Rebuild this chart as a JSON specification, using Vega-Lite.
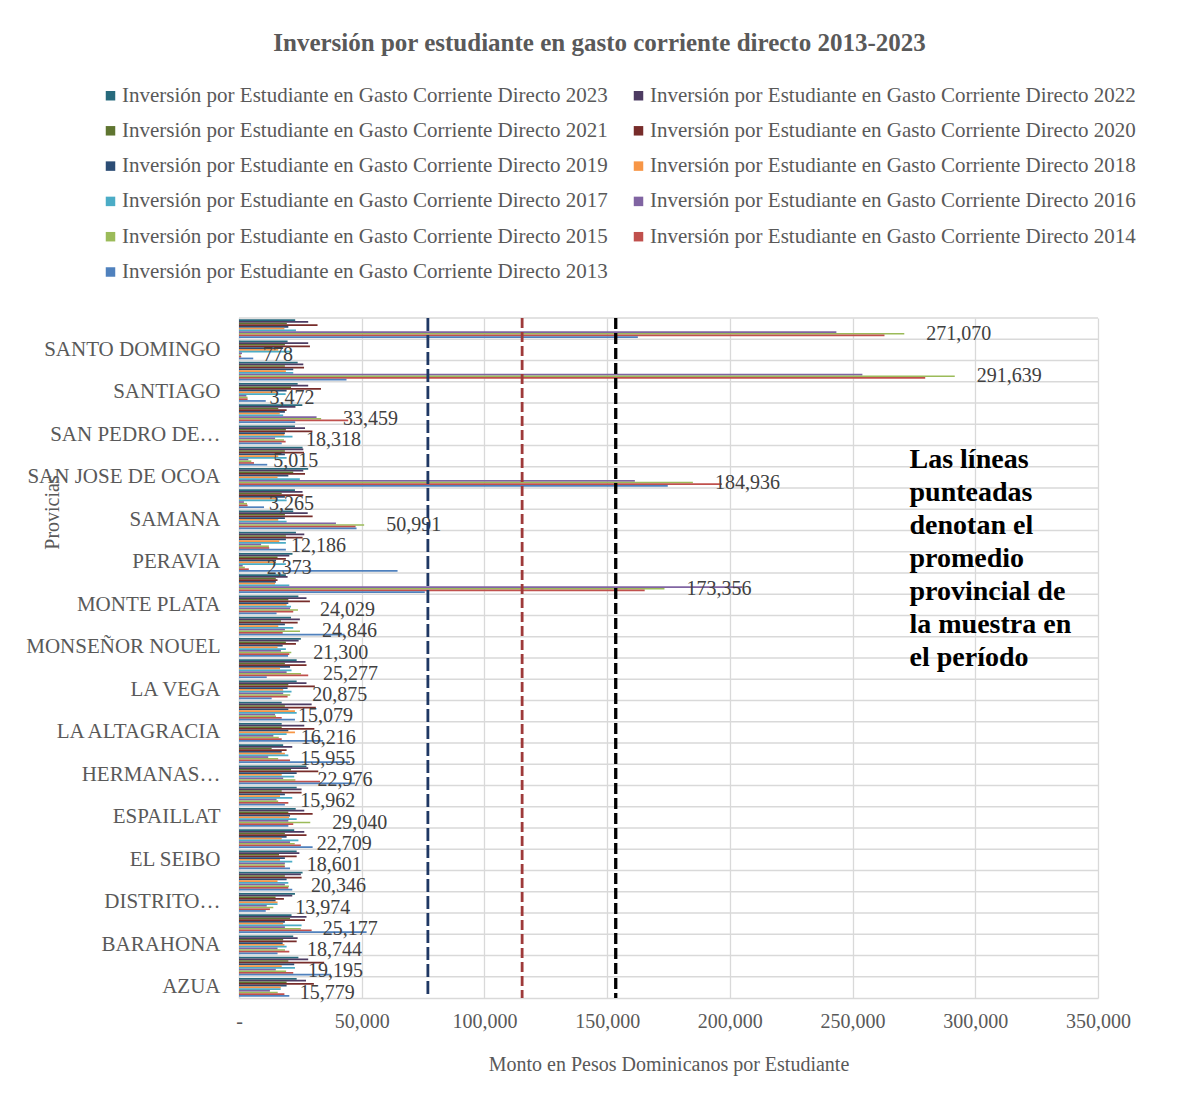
{
  "$schema": "https://vega.github.io/schema/vega-lite/v6.json",
  "autosize": "none",
  "padding": {"left": 239, "top": 318, "right": 79, "bottom": 97},
  "width": 859,
  "height": 680,
  "background": "white",
  "config": {"font": "Liberation Serif", "view": {"stroke": null}, "legend": {"labelFont": "Liberation Serif"}, "text": {"font": "Liberation Serif"}},
  "title": {
    "text": "Inversión por estudiante en gasto corriente directo 2013-2023",
    "fontSize": 25, "fontWeight": "bold", "color": "#595959", "font": "Liberation Serif",
    "anchor": "middle", "frame": "group", "dx": -69, "offset": 29
  },
  "data": {"values": [
    {"p":"VALVERDE","2023":22900,"2022":28200,"2021":19500,"2020":32000,"2019":20100,"2018":18500,"2017":23200,"2016":243400,"2015":271070,"2014":263000,"2013":162500},
    {"p":"SANTO DOMINGO","2023":19800,"2022":28200,"2021":18700,"2020":28900,"2019":18000,"2018":16000,"2017":21400,"2016":1200,"2015":778,"2014":900,"2013":5800},
    {"p":"SANTIAGO RODRIGUEZ","2023":23900,"2022":26200,"2021":18700,"2020":26500,"2019":22100,"2018":19100,"2017":22100,"2016":254000,"2015":291639,"2014":279600,"2013":43800},
    {"p":"SANTIAGO","2023":23900,"2022":28200,"2021":21200,"2020":33400,"2019":19400,"2018":15000,"2017":19000,"2016":3000,"2015":3472,"2014":3500,"2013":10900},
    {"p":"SANCHEZ RAMIREZ","2023":25800,"2022":23000,"2021":16000,"2020":19400,"2019":18700,"2018":16600,"2017":18000,"2016":31600,"2015":33459,"2014":44500,"2013":22900},
    {"p":"SAN PEDRO DE MACORIS","2023":22800,"2022":26900,"2021":19100,"2020":29900,"2019":18700,"2018":18500,"2017":21800,"2016":14700,"2015":18318,"2014":19000,"2013":17400},
    {"p":"SAN JUAN","2023":25900,"2022":26200,"2021":18700,"2020":26500,"2019":18700,"2018":16000,"2017":19400,"2016":3800,"2015":5015,"2014":6100,"2013":11500},
    {"p":"SAN JOSE DE OCOA","2023":28200,"2022":26200,"2021":22100,"2020":26900,"2019":20100,"2018":15700,"2017":24800,"2016":161300,"2015":184936,"2014":196700,"2013":174700},
    {"p":"SAN CRISTOBAL","2023":22800,"2022":25900,"2021":17400,"2020":26200,"2019":18700,"2018":15300,"2017":19400,"2016":2000,"2015":3265,"2014":3500,"2013":10200},
    {"p":"SAMANA","2023":22100,"2022":28000,"2021":18700,"2020":30000,"2019":18700,"2018":16000,"2017":19400,"2016":39500,"2015":50991,"2014":47500,"2013":47900},
    {"p":"PUERTO PLATA","2023":23200,"2022":26600,"2021":19100,"2020":25900,"2019":19100,"2018":16400,"2017":19100,"2016":9000,"2015":12186,"2014":12300,"2013":19100},
    {"p":"PERAVIA","2023":21800,"2022":20500,"2021":15700,"2020":19100,"2019":15100,"2018":15100,"2017":19100,"2016":1500,"2015":2373,"2014":4000,"2013":64600},
    {"p":"PEDERNALES","2023":19100,"2022":19800,"2021":15000,"2020":15700,"2019":15000,"2018":14700,"2017":20500,"2016":205000,"2015":173356,"2014":165300,"2013":75700},
    {"p":"MONTE PLATA","2023":24200,"2022":27500,"2021":20100,"2020":28900,"2019":20100,"2018":19400,"2017":21200,"2016":20800,"2015":24029,"2014":22100,"2013":15300},
    {"p":"MONTE CRISTI","2023":21200,"2022":24800,"2021":17100,"2020":23900,"2019":18700,"2018":16000,"2017":22100,"2016":18700,"2015":24846,"2014":17800,"2013":43000},
    {"p":"MONSEÑOR NOUEL","2023":25200,"2022":24300,"2021":19100,"2020":23200,"2019":17800,"2018":15700,"2017":19100,"2016":17100,"2015":21300,"2014":20500,"2013":20000},
    {"p":"MARIA TRINIDAD SANCHEZ","2023":23500,"2022":27100,"2021":18700,"2020":27500,"2019":20800,"2018":16700,"2017":21400,"2016":19400,"2015":25277,"2014":28200,"2013":11300},
    {"p":"LA VEGA","2023":23500,"2022":27500,"2021":20100,"2020":30900,"2019":19800,"2018":18000,"2017":21400,"2016":18000,"2015":20875,"2014":19800,"2013":13300},
    {"p":"LA ROMANA","2023":17400,"2022":29600,"2021":18700,"2020":31300,"2019":20100,"2018":22800,"2017":23500,"2016":14700,"2015":15079,"2014":17400,"2013":22800},
    {"p":"LA ALTAGRACIA","2023":17400,"2022":26600,"2021":17400,"2020":30700,"2019":20100,"2018":22800,"2017":19400,"2016":14000,"2015":16216,"2014":17400,"2013":34300},
    {"p":"INDEPENDENCIA","2023":18000,"2022":21700,"2021":13300,"2020":19400,"2019":17400,"2018":18700,"2017":20100,"2016":11900,"2015":15955,"2014":20800,"2013":45200},
    {"p":"HERMANAS MIRABAL","2023":27500,"2022":28200,"2021":21200,"2020":32300,"2019":23500,"2018":17400,"2017":22500,"2016":18000,"2015":22976,"2014":33000,"2013":47200},
    {"p":"HATO MAYOR","2023":23500,"2022":25500,"2021":17400,"2020":25500,"2019":18700,"2018":16700,"2017":21700,"2016":15300,"2015":15962,"2014":20100,"2013":18700},
    {"p":"ESPAILLAT","2023":23100,"2022":26600,"2021":20100,"2020":30000,"2019":20800,"2018":20400,"2017":23500,"2016":20100,"2015":29040,"2014":22100,"2013":20100},
    {"p":"ELIAS PIÑA","2023":22500,"2022":26600,"2021":18700,"2020":27500,"2019":19400,"2018":17400,"2017":24200,"2016":20800,"2015":22709,"2014":25200,"2013":30000},
    {"p":"EL SEIBO","2023":23500,"2022":24600,"2021":16300,"2020":23500,"2019":18700,"2018":16700,"2017":21700,"2016":18700,"2015":18601,"2014":18700,"2013":20800},
    {"p":"DUARTE","2023":25900,"2022":25200,"2021":18700,"2020":25500,"2019":19400,"2018":15700,"2017":20100,"2016":18700,"2015":20346,"2014":20100,"2013":21700},
    {"p":"DISTRITO NACIONAL","2023":22800,"2022":21700,"2021":14900,"2020":18300,"2019":14900,"2018":15700,"2017":15700,"2016":11300,"2015":13974,"2014":12600,"2013":10900},
    {"p":"DAJABON","2023":21400,"2022":27500,"2021":20800,"2020":26900,"2019":18700,"2018":18000,"2017":25500,"2016":18700,"2015":25177,"2014":29600,"2013":52000},
    {"p":"BARAHONA","2023":22100,"2022":23900,"2021":18000,"2020":23500,"2019":17800,"2018":18500,"2017":19400,"2016":15700,"2015":18744,"2014":20500,"2013":15700},
    {"p":"BAHORUCO","2023":24200,"2022":28200,"2021":20100,"2020":34700,"2019":22500,"2018":17400,"2017":22800,"2016":15000,"2015":19195,"2014":22100,"2013":37500},
    {"p":"AZUA","2023":23500,"2022":27300,"2021":19400,"2020":30500,"2019":19400,"2018":17000,"2017":17000,"2016":12600,"2015":15779,"2014":18500,"2013":20500}
  ]},
  "transform": [
    {"fold": ["2023","2022","2021","2020","2019","2018","2017","2016","2015","2014","2013"], "as": ["k","v"]}
  ],
  "encoding": {
    "y": {
      "field": "p", "type": "nominal",
      "scale": {"domain": ["VALVERDE","SANTO DOMINGO","SANTIAGO RODRIGUEZ","SANTIAGO","SANCHEZ RAMIREZ","SAN PEDRO DE MACORIS","SAN JUAN","SAN JOSE DE OCOA","SAN CRISTOBAL","SAMANA","PUERTO PLATA","PERAVIA","PEDERNALES","MONTE PLATA","MONTE CRISTI","MONSEÑOR NOUEL","MARIA TRINIDAD SANCHEZ","LA VEGA","LA ROMANA","LA ALTAGRACIA","INDEPENDENCIA","HERMANAS MIRABAL","HATO MAYOR","ESPAILLAT","ELIAS PIÑA","EL SEIBO","DUARTE","DISTRITO NACIONAL","DAJABON","BARAHONA","BAHORUCO","AZUA"], "paddingInner": 0, "paddingOuter": 0},
      "axis": {
        "values": ["SANTO DOMINGO","SANTIAGO","SAN PEDRO DE MACORIS","SAN JOSE DE OCOA","SAMANA","PERAVIA","MONTE PLATA","MONSEÑOR NOUEL","LA VEGA","LA ALTAGRACIA","HERMANAS MIRABAL","ESPAILLAT","EL SEIBO","DISTRITO NACIONAL","BARAHONA","AZUA"],
        "labelExpr": "datum.value == 'SAN PEDRO DE MACORIS' ? 'SAN PEDRO DE…' : datum.value == 'HERMANAS MIRABAL' ? 'HERMANAS…' : datum.value == 'DISTRITO NACIONAL' ? 'DISTRITO…' : datum.value",
        "ticks": false, "grid": false, "domain": true, "domainColor": "#D9D9D9", "domainWidth": 1.3,
        "labelFontSize": 21, "labelColor": "#595959", "labelFont": "Liberation Serif", "labelPadding": 19, "labelLimit": 400,
        "title": "Provicias", "titleFontSize": 20, "titleFontWeight": "normal", "titleColor": "#595959", "titleFont": "Liberation Serif",
        "titleAngle": -90, "titleX": -187, "titleY": 194, "titleBaseline": "middle", "titleAlign": "center"
      }
    }
  },
  "layer": [
    {
      "transform": [{"filter": "datum.k == '2015'"}],
      "mark": {"type": "rule", "color": "#D9D9D9", "strokeWidth": 1.3},
      "encoding": {"y": {"field": "p", "type": "nominal", "bandPosition": 0}}
    },
    {
      "mark": {"type": "bar"},
      "encoding": {
        "x": {
          "field": "v", "type": "quantitative",
          "scale": {"domain": [0, 350000], "nice": false},
          "axis": {
            "values": [0,50000,100000,150000,200000,250000,300000,350000],
            "labelExpr": "datum.value == 0 ? '-' : format(datum.value, ',')",
            "labelFlush": false,
            "grid": true, "gridColor": "#D9D9D9", "gridWidth": 1.3, "ticks": false,
            "domain": true, "domainColor": "#D9D9D9", "domainWidth": 1.3,
            "labelFontSize": 20, "labelColor": "#595959", "labelFont": "Liberation Serif", "labelPadding": 13,
            "title": "Monto en Pesos Dominicanos por Estudiante", "titleFontSize": 20, "titleFontWeight": "normal",
            "titleColor": "#595959", "titleFont": "Liberation Serif", "titlePadding": 23
          }
        },
        "yOffset": {"field": "k", "type": "nominal", "scale": {"domain": ["2023","2022","2021","2020","2019","2018","2017","2016","2015","2014","2013"], "paddingOuter": 0.7, "paddingInner": 0}},
        "color": {
          "field": "k", "type": "nominal",
          "scale": {"domain": ["2023","2022","2021","2020","2019","2018","2017","2016","2015","2014","2013"],
                    "range": ["#276A7C","#4D3B62","#5F7530","#772C2A","#2C4D75","#F79646","#4BACC6","#8064A2","#9BBB59","#C0504D","#4F81BD"]},
          "legend": {
            "orient": "none", "legendX": -139, "legendY": -233, "columns": 2, "direction": "horizontal", "title": null,
            "symbolType": "square", "symbolSize": 90, "symbolStrokeWidth": 0, "labelOffset": 1,
            "labelFontSize": 21, "labelColor": "#595959", "labelFont": "Liberation Serif", "labelLimit": 700,
            "rowPadding": 13.3, "columnPadding": 20, "padding": 0,
            "labelExpr": "'Inversión por Estudiante en Gasto Corriente Directo ' + datum.label"
          }
        }
      }
    },
    {
      "transform": [{"filter": "datum.k == '2015'"}],
      "mark": {"type": "text", "align": "left", "baseline": "middle", "dx": 22, "fontSize": 20, "font": "Liberation Serif", "color": "#404040"},
      "encoding": {
        "x": {"field": "v", "type": "quantitative"},
        "yOffset": {"field": "k", "type": "nominal", "scale": {"domain": ["2023","2022","2021","2020","2019","2018","2017","2016","2015","2014","2013"], "paddingOuter": 0.7, "paddingInner": 0}},
        "text": {"field": "v", "type": "quantitative", "format": ",.0f"}
      }
    },
    {
      "data": {"values": [{"m": 76960}]},
      "transform": [],
      "mark": {"type": "rule", "color": "#1F3864", "strokeWidth": 2.8, "strokeDash": [13, 4]},
      "encoding": {"x": {"field": "m", "type": "quantitative"}, "y": null}
    },
    {
      "data": {"values": [{"m": 115360}]},
      "transform": [],
      "mark": {"type": "rule", "color": "#9E3A3A", "strokeWidth": 2.8, "strokeDash": [10, 4]},
      "encoding": {"x": {"field": "m", "type": "quantitative"}, "y": null}
    },
    {
      "data": {"values": [{"m": 153500}]},
      "transform": [],
      "mark": {"type": "rule", "color": "#000000", "strokeWidth": 3.3, "strokeDash": [11, 4]},
      "encoding": {"x": {"field": "m", "type": "quantitative"}, "y": null}
    },
    {
      "data": {"values": [{"t": ["Las líneas", "punteadas", "denotan el", "promedio", "provincial de", "la muestra en", "el período"], "x": 273200, "y": "SAN JUAN"}]},
      "transform": [],
      "mark": {"type": "text", "align": "left", "baseline": "top", "fontSize": 28, "fontWeight": "bold", "font": "Liberation Serif", "color": "#000000", "lineHeight": 33},
      "encoding": {
        "x": {"field": "x", "type": "quantitative"},
        "y": {"field": "y", "type": "nominal", "bandPosition": 0},
        "text": {"field": "t"}
      }
    }
  ]
}
